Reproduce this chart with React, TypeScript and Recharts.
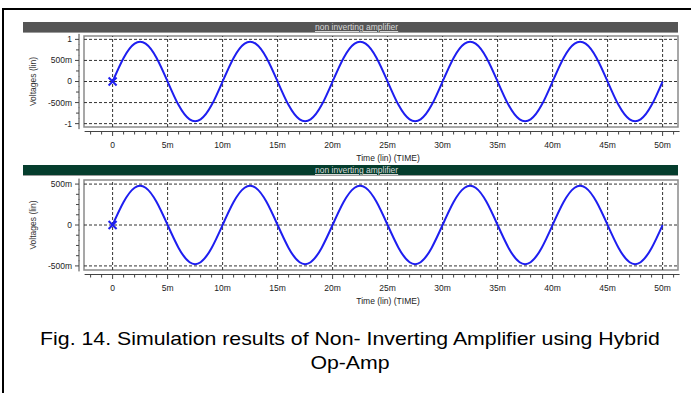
import {LineChart, Line, XAxis, YAxis, ReferenceLine, ReferenceArea} from "recharts";

// time in ms
const timeMs = [
    0, 1, 2, 3, 4, 5, 6, 7, 8, 9,
    10, 11, 12, 13, 14, 15, 16, 17, 18, 19,
    20, 21, 22, 23, 24, 25, 26, 27, 28, 29,
    30, 31, 32, 33, 34, 35, 36, 37, 38, 39,
    40, 41, 42, 43, 44, 45, 46, 47, 48, 49,
    50,
];

// volts, top panel
const topVolts = [
    0, 0.56, 0.9, 0.9, 0.56, 0, -0.56, -0.9, -0.9, -0.56,
    0, 0.56, 0.9, 0.9, 0.56, 0, -0.56, -0.9, -0.9, -0.56,
    0, 0.56, 0.9, 0.9, 0.56, 0, -0.56, -0.9, -0.9, -0.56,
    0, 0.56, 0.9, 0.9, 0.56, 0, -0.56, -0.9, -0.9, -0.56,
    0, 0.56, 0.9, 0.9, 0.56, 0, -0.56, -0.9, -0.9, -0.56,
    0,
];

// volts, bottom panel
const bottomVolts = [
    0, 0.28, 0.455, 0.455, 0.28, 0, -0.28, -0.455, -0.455, -0.28,
    0, 0.28, 0.455, 0.455, 0.28, 0, -0.28, -0.455, -0.455, -0.28,
    0, 0.28, 0.455, 0.455, 0.28, 0, -0.28, -0.455, -0.455, -0.28,
    0, 0.28, 0.455, 0.455, 0.28, 0, -0.28, -0.455, -0.455, -0.28,
    0, 0.28, 0.455, 0.455, 0.28, 0, -0.28, -0.455, -0.455, -0.28,
    0,
];

const xMajor = [0, 5, 10, 15, 20, 25, 30, 35, 40, 45, 50];
const xRuler = [-2, -1, 0, 1, 2, 3, 4, 5, 6, 7, 8, 9, 10, 11, 12, 13, 14, 15, 16, 17, 18, 19, 20,
    21, 22, 23, 24, 25, 26, 27, 28, 29, 30, 31, 32, 33, 34, 35, 36, 37, 38, 39, 40,
    41, 42, 43, 44, 45, 46, 47, 48, 49, 50, 51];

const topMajor = [-1, -0.5, 0, 0.5, 1];
const topRuler = [-1, -0.75, -0.5, -0.25, 0, 0.25, 0.5, 0.75, 1];
const bottomMajor = [-0.5, 0, 0.5];
const bottomRuler = [-0.5, -0.375, -0.25, -0.125, 0, 0.125, 0.25, 0.375, 0.5];

const xDomain: [number, number] = [-2.6, 51.4];
const topDomain: [number, number] = [-1.08, 1.08];
const bottomDomain: [number, number] = [-0.55, 0.55];

const BLUE = "#1e1ef0";
const AXIS = "#444";
const SMALL = "'Liberation Sans Narrow', 'Liberation Sans', Arial, sans-serif";

const fmtTime = (v: number) => (v === 0 ? "0" : `${v}m`);
const fmtVolt = (v: number) => {
    if (v === 0) return "0";
    if (Math.abs(v) >= 1) return `${v}`;
    return `${Math.round(v * 1000)}m`;
};

const XTick = (props: any) => {
    const {x, y, payload} = props;
    const v = payload.value;
    const major = xMajor.includes(v);
    return (
        <g>
            <line x1={x - 6} x2={x + 6} y1={y + 4.5} y2={y + 4.5} stroke={AXIS} />
            <line x1={x} x2={x} y1={y + 4.5} y2={y + (major ? 9 : 7.5)} stroke={AXIS} />
            {major && (
                <text x={x} y={y + 21} textAnchor="middle" fontSize={8.5} fontFamily={SMALL} fill="#222">
                    {fmtTime(v)}
                </text>
            )}
        </g>
    );
};

const makeYTick = (major: number[]) => (props: any) => {
    const {x, y, payload} = props;
    const v = payload.value;
    const isMajor = major.includes(v);
    return (
        <g>
            <line x1={x - 5} x2={x - 5} y1={y - 5.5} y2={y + 5.5} stroke={AXIS} />
            <line x1={x - 5} x2={x - (isMajor ? 9 : 8)} y1={y} y2={y} stroke={AXIS} />
            {isMajor && (
                <text x={x - 12} y={y} dy="0.35em" textAnchor="end" fontSize={8.5} fontFamily={SMALL} fill="#222">
                    {fmtVolt(v)}
                </text>
            )}
        </g>
    );
};

const StartMark = (props: any) => {
    const {cx, cy, index} = props;
    if (index !== 0) return <g key={`d${index}`} />;
    return (
        <g key="start">
            <line x1={cx - 4} x2={cx + 4} y1={cy - 4} y2={cy + 4} stroke={BLUE} strokeWidth={2} />
            <line x1={cx - 4} x2={cx + 4} y1={cy + 4} y2={cy - 4} stroke={BLUE} strokeWidth={2} />
        </g>
    );
};

type PanelProps = {
    top: number,
    height: number,
    marginTop: number,
    marginBottom: number,
    values: number[],
    yDomain: [number, number],
    yMajor: number[],
    yRuler: number[],
}

const Panel = ({top, height, marginTop, marginBottom, values, yDomain, yMajor, yRuler}: PanelProps) => {
    const data = timeMs.map((t, i) => ({t, v: values[i]}));
    return (
        <div style={{position: "absolute", left: 0, top}}>
            <LineChart width={691} height={height} data={data}
                       margin={{top: marginTop, right: 13, bottom: marginBottom, left: 24}}>
                <ReferenceArea x1={xDomain[0]} x2={xDomain[1]} y1={yDomain[0]} y2={yDomain[1]}
                               fill="none" stroke="#8a8a8a" strokeWidth={1.5} ifOverflow="visible" />
                {xMajor.map(x => (
                    <ReferenceLine key={`x${x}`} x={x} stroke="#333" strokeDasharray="3 2" />
                ))}
                {yMajor.map(y => (
                    <ReferenceLine key={`y${y}`} y={y} stroke="#333" strokeDasharray="3 2" />
                ))}
                <XAxis dataKey="t" type="number" domain={xDomain} allowDataOverflow ticks={xRuler}
                       interval={0} tickSize={0} tickMargin={0} axisLine={false} tickLine={false}
                       tick={<XTick />} height={36}
                       label={{value: "Time (lin) (TIME)", position: "insideBottom", offset: 2, dx: 7,
                           fontSize: 8.5, fontFamily: SMALL, fill: "#222"}} />
                <YAxis type="number" domain={yDomain} allowDataOverflow ticks={yRuler}
                       interval={0} tickSize={0} tickMargin={0} axisLine={false} tickLine={false}
                       tick={makeYTick(yMajor)} width={60}
                       label={{value: "Voltages (lin)", angle: -90, position: "insideLeft", offset: 9,
                           fontSize: 8.5, fontFamily: SMALL, fill: "#333", style: {textAnchor: "middle"}}} />
                <Line type="natural" dataKey="v" stroke={BLUE} strokeWidth={2}
                      dot={StartMark} activeDot={false} isAnimationActive={false} />
            </LineChart>
        </div>
    );
};

const TitleBar = ({top, color}: { top: number, color: string }) => (
    <div style={{
        position: "absolute", left: 23, top, width: 655, height: 11, background: color,
        borderBottom: "1px solid #9a9a9a", boxSizing: "border-box",
    }}>
        <span style={{
            position: "absolute", left: 292, top: 0, fontSize: 8.5, lineHeight: "11px",
            fontFamily: SMALL, color: "#d8d8d8", textDecoration: "underline",
        }}>non inverting amplifier</span>
    </div>
);

export default function App() {
    return (
        <div style={{position: "absolute", left: 0, top: 0, width: 691, height: 393, background: "#fff", overflow: "hidden"}}>
            <div style={{
                position: "absolute", left: 2, top: 8, width: 700, height: 400,
                borderTop: "2px solid #000", borderLeft: "2px solid #000",
            }} />
            <TitleBar top={22} color="#555555" />
            <TitleBar top={165} color="#053d2d" />
            <Panel top={0} height={164} marginTop={36} marginBottom={1}
                   values={topVolts} yDomain={topDomain} yMajor={topMajor} yRuler={topRuler} />
            <Panel top={140} height={169} marginTop={40} marginBottom={3}
                   values={bottomVolts} yDomain={bottomDomain} yMajor={bottomMajor} yRuler={bottomRuler} />
            <div style={{
                position: "absolute", left: 0, width: 700, top: 327, textAlign: "center",
                fontFamily: "'Liberation Sans', Arial, sans-serif", fontSize: 19, lineHeight: "24px", color: "#000",
                transform: "scaleX(1.12)", transformOrigin: "350px 0",
            }}>
                Fig. 14. Simulation results of Non- Inverting Amplifier using Hybrid<br />Op-Amp
            </div>
        </div>
    );
}
